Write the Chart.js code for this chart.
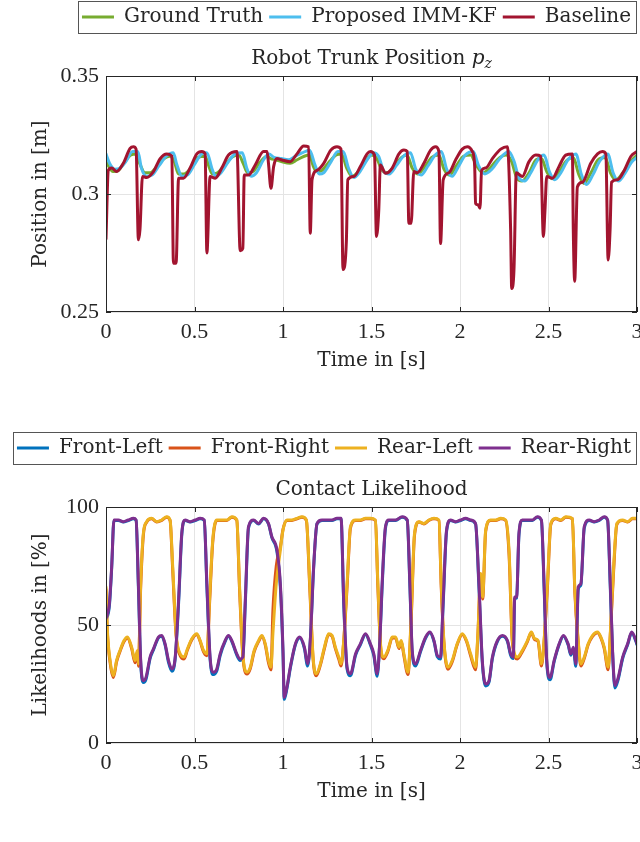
<!DOCTYPE html>
<html><head><meta charset="utf-8">
<script src="https://cdn.jsdelivr.net/npm/chart.js@4.4.1/dist/chart.umd.min.js"></script>
<style>
html,body{margin:0;padding:0;background:#fff;width:640px;height:842px;overflow:hidden}
canvas{position:absolute;left:0}
#c1{top:0} #c2{top:431px}
</style></head><body>
<canvas id="c1" width="640" height="400"></canvas>
<canvas id="c2" width="640" height="400"></canvas>
<script>
// ---------- Top chart: robot trunk position p_z ----------
const baselineT = [
0,0.013,0.032,0.06,0.098,0.136,0.155,0.17,0.183,0.192,
0.206,0.23,0.268,0.306,0.343,0.372,0.381,0.396,0.41,0.438,
0.475,0.513,0.541,0.56,0.57,0.588,0.617,0.654,0.692,0.74,
0.758,0.773,0.781,0.805,0.843,0.89,0.91,0.918,0.932,0.947,
0.966,0.994,1.04,1.079,1.117,1.145,1.154,1.164,1.192,1.23,
1.27,1.305,1.328,1.339,1.358,1.366,1.4,1.437,1.475,1.494,
1.517,1.528,1.541,1.55,1.579,1.617,1.655,1.683,1.702,1.711,
1.724,1.739,1.758,1.796,1.834,1.862,1.881,1.89,1.905,1.937,
1.975,2.013,2.041,2.07,2.083,2.088,2.102,2.113,2.122,2.145,
2.183,2.23,2.268,2.286,2.292,2.305,2.318,2.352,2.39,2.428,
2.456,2.471,2.48,2.49,2.522,2.559,2.597,2.635,2.64,2.648,
2.663,2.692,2.739,2.777,2.805,2.824,2.837,2.848,2.856,2.89,
2.928,2.966,3.0];
const baselineV = [
0.281,0.310,0.311,0.3095,0.313,0.3193,0.320,0.319,0.2806,0.285,
0.3074,0.307,0.3095,0.315,0.317,0.316,0.2707,0.2707,0.3067,0.3067,
0.311,0.317,0.318,0.317,0.275,0.3074,0.3067,0.311,0.3165,0.318,
0.276,0.277,0.308,0.308,0.3123,0.318,0.318,0.313,0.3024,0.3116,
0.315,0.3144,0.3137,0.317,0.3203,0.320,0.2834,0.306,0.310,0.313,
0.3186,0.320,0.319,0.268,0.280,0.306,0.3074,0.3116,0.317,0.318,
0.3165,0.282,0.293,0.3123,0.3088,0.311,0.317,0.3186,0.318,0.2876,
0.2876,0.3095,0.309,0.313,0.3186,0.320,0.318,0.279,0.306,0.309,
0.3144,0.319,0.320,0.318,0.3116,0.296,0.2954,0.294,0.310,0.311,
0.315,0.319,0.320,0.285,0.260,0.268,0.309,0.3074,0.3137,0.3165,
0.316,0.282,0.293,0.3074,0.3067,0.3116,0.3165,0.317,0.285,0.263,
0.303,0.305,0.313,0.317,0.318,0.317,0.272,0.285,0.305,0.306,
0.310,0.316,0.318];

const truthT = [
0,0.04,0.07,0.10,0.14,0.17,0.19,0.22,0.25,0.28,
0.32,0.36,0.385,0.41,0.44,0.48,0.52,0.56,0.58,0.60,
0.63,0.67,0.71,0.75,0.775,0.80,0.83,0.87,0.91,0.93,
0.96,1.0,1.04,1.08,1.12,1.15,1.17,1.19,1.22,1.26,
1.30,1.33,1.36,1.39,1.42,1.47,1.50,1.53,1.56,1.59,
1.63,1.67,1.70,1.73,1.76,1.80,1.84,1.88,1.91,1.94,
1.98,2.02,2.06,2.09,2.13,2.17,2.21,2.26,2.29,2.32,
2.35,2.39,2.43,2.46,2.49,2.52,2.56,2.60,2.64,2.67,
2.70,2.74,2.78,2.82,2.85,2.88,2.92,2.96,3.0];
const truthV = [
0.3137,0.3095,0.310,0.313,0.3165,0.317,0.313,0.309,0.309,0.311,
0.3145,0.316,0.314,0.3085,0.3085,0.311,0.3155,0.316,0.312,0.3085,
0.309,0.312,0.3155,0.3165,0.313,0.309,0.3095,0.3135,0.316,0.315,
0.3145,0.3135,0.313,0.3145,0.316,0.3165,0.312,0.3095,0.310,0.3135,
0.3165,0.317,0.311,0.3075,0.309,0.3145,0.3165,0.315,0.310,0.309,
0.312,0.3155,0.3165,0.311,0.3085,0.3115,0.3155,0.3165,0.3105,0.308,
0.312,0.316,0.3165,0.3125,0.309,0.311,0.3145,0.3165,0.314,0.307,
0.3055,0.309,0.3145,0.315,0.3095,0.3065,0.3095,0.314,0.3155,0.3085,
0.3045,0.309,0.3145,0.3155,0.309,0.306,0.309,0.3135,0.3165];

const immT = [
0,0.02,0.05,0.08,0.11,0.15,0.18,0.20,0.23,0.26,
0.30,0.34,0.38,0.40,0.43,0.46,0.50,0.54,0.57,0.60,
0.62,0.65,0.69,0.73,0.77,0.795,0.82,0.85,0.89,0.92,
0.95,0.99,1.03,1.07,1.11,1.15,1.18,1.205,1.23,1.27,
1.31,1.34,1.37,1.40,1.43,1.48,1.51,1.54,1.57,1.60,
1.64,1.68,1.72,1.75,1.78,1.82,1.86,1.895,1.925,1.955,
1.99,2.03,2.075,2.105,2.14,2.18,2.22,2.275,2.305,2.335,
2.365,2.40,2.44,2.475,2.505,2.535,2.57,2.61,2.655,2.685,
2.715,2.75,2.79,2.835,2.865,2.895,2.93,2.97,3.0];
const immV = [
0.317,0.313,0.3105,0.311,0.3135,0.318,0.318,0.311,0.3075,0.308,
0.312,0.316,0.3175,0.3125,0.3075,0.308,0.3125,0.317,0.3175,0.3105,
0.3075,0.309,0.3135,0.317,0.3175,0.311,0.3075,0.309,0.3145,0.317,
0.3155,0.315,0.3145,0.316,0.3175,0.3185,0.3125,0.3085,0.309,0.3135,
0.318,0.318,0.311,0.307,0.309,0.315,0.3175,0.316,0.3095,0.3085,
0.312,0.316,0.3175,0.3105,0.308,0.312,0.3165,0.318,0.3105,0.3075,
0.3115,0.3165,0.318,0.312,0.3085,0.3105,0.3145,0.318,0.314,0.3065,
0.3055,0.309,0.3145,0.3165,0.3095,0.306,0.309,0.3145,0.317,0.3085,
0.304,0.308,0.314,0.317,0.309,0.3055,0.3085,0.3135,0.3155];

// ---------- Bottom chart: contact likelihood ----------
const legT_A = [
0,0.019,0.032,0.045,0.07,0.098,0.126,0.155,0.17,0.183,
0.196,0.211,0.226,0.249,0.268,0.296,0.315,0.334,0.353,0.372,
0.391,0.41,0.428,0.447,0.475,0.504,0.532,0.555,0.57,0.588,
0.607,0.626,0.645,0.673,0.692,0.711,0.739,0.758,0.773,0.787,
0.805,0.834,0.862,0.89,0.918,0.937,0.966,0.985,1.0,1.007,
1.022,1.041,1.07,1.094,1.121,1.139,1.154,1.173,1.192,1.22,
1.249,1.277,1.305,1.328,1.343,1.362,1.381,1.41,1.437,1.466,
1.494,1.513,1.532,1.547,1.56,1.579,1.598,1.636,1.673,1.702,
1.717,1.73,1.749,1.777,1.806,1.83,1.853,1.872,1.89,1.905,
1.924,1.947,1.975,2.003,2.032,2.06,2.088,2.107,2.126,2.145,
2.164,2.183,2.211,2.24,2.268,2.286,2.301,2.309,2.32,2.333,
2.352,2.381,2.409,2.437,2.46,2.475,2.49,2.509,2.532,2.56,
2.584,2.611,2.626,2.641,2.654,2.668,2.683,2.702,2.73,2.758,
2.787,2.815,2.834,2.849,2.862,2.875,2.894,2.919,2.947,2.97,
2.994,3.0];
const rearRightV = [
52.7,59,74.6,94.5,94.5,93.8,94.5,95.2,94.5,67.5,
35,26.4,27.8,36.4,39.9,44.9,45.6,42,35,31.4,
36.4,60.5,88.8,94.5,93.8,94.5,95.2,94.5,67.5,36.4,
30,31.4,37.8,43.4,45.6,43.4,37.8,35.6,36.4,60.5,
91.7,94.5,93,95.2,93,87.4,81.7,67.5,39.2,19.3,
23.6,32.1,42,44.9,40.6,33.5,43.4,74.6,93,94.5,
94.5,94.5,95.2,95.2,60.5,32.1,29.3,37.8,42,46.3,
42,37.8,29.3,43.4,67.5,91.7,94.5,94.5,95.9,94.5,
67.5,39.2,33.5,39.2,44.9,47,43.4,37.1,36.4,60.5,
90.2,94.5,93.8,94.5,95.2,94.5,93,67.5,35,25,
26.4,36.4,43.4,45.6,43.4,37.8,36.4,61.9,61.9,88.8,
94.5,94.5,94.5,95.9,94.5,67.5,35,27.8,35,42,
45.6,42,37.8,40.6,33.5,66.1,67.5,91.7,94.5,93.8,
94.5,95.9,94.5,67.5,39.2,24.3,27.8,36.4,42,47,
43.4,42];
const frontLeftV = [
52,58,74,94.3,94.3,93.6,94.3,95,94.3,66,
34,25.6,27,35.8,39.4,44.5,45.2,41.5,34.2,30.4,
35.8,59,88,94.3,93.6,94.3,95,94.3,66,35.6,
29,30.6,37,43,45.2,43,37.2,35,35.8,59,
91,94.3,92.8,95,92.8,87,81,66,38,18.5,
23,31.5,41.6,44.5,40,32.6,43,74,92.8,94.3,
94.3,94.3,95,95,59,31.4,28.5,37.2,41.6,46,
41.5,37,28.3,43,66,91,94.3,94.3,95.7,94.3,
66,38.4,32.6,38.7,44.5,46.7,43,36.5,35.6,59,
89.6,94.3,93.6,94.3,95,94.3,92.8,66,34.2,24.2,
25.8,35.8,43,45.2,43,37.2,35.8,61,61.5,88,
94.3,94.3,94.3,95.7,94.3,66,34.2,26.8,34.5,41.6,
45.2,41.5,37.2,40,32.5,65,67,91,94.3,93.6,
94.3,95.7,94.3,66,38.4,23.3,27,35.8,41.6,46.7,
43,41.6];

const legT_B = [
0,0.007,0.023,0.042,0.06,0.079,0.102,0.121,0.145,0.164,
0.177,0.183,0.196,0.211,0.23,0.258,0.287,0.315,0.343,0.362,
0.377,0.396,0.419,0.441,0.46,0.485,0.513,0.532,0.551,0.57,
0.585,0.603,0.626,0.654,0.683,0.711,0.739,0.754,0.773,0.796,
0.815,0.837,0.862,0.881,0.9,0.918,0.932,0.943,0.962,0.985,
1.0,1.022,1.05,1.079,1.107,1.132,1.151,1.17,1.188,1.211,
1.234,1.258,1.277,1.296,1.315,1.328,1.343,1.362,1.381,1.41,
1.437,1.466,1.494,1.522,1.536,1.551,1.569,1.592,1.617,1.636,
1.655,1.668,1.683,1.706,1.724,1.743,1.768,1.796,1.824,1.853,
1.881,1.894,1.909,1.932,1.956,1.984,2.013,2.037,2.06,2.088,
2.101,2.117,2.128,2.145,2.173,2.202,2.23,2.258,2.277,2.296,
2.324,2.352,2.381,2.403,2.422,2.441,2.46,2.475,2.494,2.513,
2.541,2.569,2.598,2.635,2.649,2.668,2.683,2.702,2.724,2.749,
2.777,2.796,2.815,2.837,2.849,2.868,2.886,2.919,2.947,2.975,
3.0];
const rearLeftV = [
66.1,49.1,35,28.5,35,39.2,43.4,44.9,40.6,35,
39.2,33.5,67.5,88.8,93.8,95.2,93.8,94.5,95.9,94.5,
74.6,46.3,37.8,36.4,39.9,44.2,46.3,43.4,39.2,37.8,
60.5,86,94.5,94.5,94.5,95.9,94.5,67.5,37.8,30,
32.1,39.2,43.4,45.6,42,35,32.1,46.3,67.5,81.7,
90.2,94.5,94.5,95.2,95.9,94.5,67.5,36.4,29.3,33.5,
40.6,46.3,45.6,40.6,36.4,33.5,43.4,67.5,91.7,94.5,
94.5,95.2,95.2,94.5,67.5,42,36.4,39.2,44.9,44.9,
40.6,43.4,37.8,30,53.4,88.8,93.8,93,94.5,95.2,
94.5,67.5,43.4,32.1,35,42,46.3,43.4,37.8,32.1,
46.3,71.8,61.9,90.2,94.5,94.5,95.2,94.5,81.7,43.4,
36.4,39.2,43.4,47,44.2,43.4,33.5,43.4,67.5,93,
95.2,94.5,95.9,95.2,64.7,43.4,33.5,36.4,42,45.6,
47,44.9,40.6,32.1,46.3,74.6,93,94.5,93.8,95.2,
95.2];
const frontRightV = [
65,48,34.2,27.8,34.5,38.8,43,44.5,40,34,
38.5,32.5,66,88,93.6,95,93.6,94.3,95.7,94.3,
73,45.5,37,35.6,39.4,43.8,46,43,38.6,37,
59,85,94.3,94.3,94.3,95.7,94.3,66,37,29.2,
31.5,38.6,43,45.2,41.5,34,31,56,75,83,
90.5,94.3,94.3,95,95.7,94.3,66,35.6,28.5,33,
40,46,45.2,40,35.6,32.6,43,66,91,94.3,
94.3,95,95,94.3,66,41.2,35.7,38.7,44.5,44.5,
40,43,37,29,52,88,93.6,92.8,94.3,95,
94.3,66,42.6,31.3,34.4,41.6,46,43,37,31,
45.5,71,61,89.6,94.3,94.3,95,94.3,80,42.6,
35.6,38.7,43,46.7,43.8,43,32.6,43,66,92.5,
95,94.3,95.7,95,63.5,42.6,32.6,35.8,41.6,45.2,
46.7,44.5,40,31,45.5,73,92.5,94.3,93.6,95,
95];

// ---------- helpers ----------
const INK = '#262626';
const TEXT_FONT = {family: "'DejaVu Serif', serif", size: 20, weight: 'normal'};
const TICK_FONT = {family: "'Liberation Serif', 'Times New Roman', serif", size: 22, weight: 'normal'};

function xy(t, v) { return t.map((tt, i) => ({x: tt, y: v[i]})); }
function fmt(v) { return String(Math.round(v * 1000) / 1000); }

const frame = {
  id: 'frame',
  afterDraw(chart, args, opts) {
    const {ctx, chartArea: a, scales: {x, y}} = chart;
    ctx.save();
    ctx.strokeStyle = INK;
    ctx.lineWidth = 1;
    const L = 5;
    ctx.beginPath();
    x.ticks.forEach(t => {
      const p = Math.round(x.getPixelForValue(t.value)) + 0.5;
      ctx.moveTo(p, a.bottom); ctx.lineTo(p, a.bottom - L);
      ctx.moveTo(p, a.top); ctx.lineTo(p, a.top + L);
    });
    y.ticks.forEach(t => {
      const p = Math.round(y.getPixelForValue(t.value)) + 0.5;
      ctx.moveTo(a.left, p); ctx.lineTo(a.left + L, p);
      ctx.moveTo(a.right, p); ctx.lineTo(a.right - L, p);
    });
    ctx.stroke();
    ctx.strokeRect(Math.round(a.left) + 0.5, Math.round(a.top) + 0.5,
                   Math.round(a.width) - 1, Math.round(a.height) - 1);
    // legend frame
    const hb = chart.legend && chart.legend.legendHitBoxes;
    if (hb && hb.length) {
      const l = Math.min(...hb.map(h => h.left)) - 4;
      const r = Math.max(...hb.map(h => h.left + h.width)) + 5;
      const t = hb[0].top - 6, b = hb[0].top + hb[0].height + 6;
      ctx.strokeStyle = '#555';
      ctx.strokeRect(Math.round(l) + 0.5, Math.round(t) + 0.5, Math.round(r - l), Math.round(b - t));
    }
    // rich title (with italic subscript)
    if (opts.rich) {
      const tb = chart.titleBlock;
      const yMid = tb.top + 10 + 12;
      const segs = opts.rich;
      let total = 0;
      segs.forEach(s => { ctx.font = s.font; s.w = ctx.measureText(s.text).width; total += s.w; });
      let cx = (a.left + a.right) / 2 - total / 2;
      ctx.fillStyle = INK;
      ctx.textBaseline = 'middle';
      ctx.textAlign = 'left';
      segs.forEach(s => { ctx.font = s.font; ctx.fillText(s.text, cx, yMid + (s.dy || 0)); cx += s.w; });
    }
    ctx.restore();
  }
};

function legendLabels(chart) {
  const items = Chart.defaults.plugins.legend.labels.generateLabels(chart);
  items.forEach(it => { it.lineWidth = 0; it.fillStyle = it.strokeStyle; });
  return items.sort((p, q) => p.datasetIndex - q.datasetIndex);
}

function build(id, datasets, yMin, yMax, yStep, yLabel, titleText, rich) {
  return new Chart(document.getElementById(id), {
    type: 'line',
    data: {datasets},
    options: {
      responsive: false,
      animation: false,
      layout: {padding: {left: 0, right: 3, top: 1, bottom: 0}},
      elements: {point: {radius: 0}, line: {borderWidth: 3, cubicInterpolationMode: 'monotone', borderJoinStyle: 'round', borderCapStyle: 'round'}},
      scales: {
        x: {
          type: 'linear', min: 0, max: 3,
          ticks: {stepSize: 0.5, padding: 7, color: INK, font: TICK_FONT, maxRotation: 0, autoSkip: false, callback: fmt},
          grid: {color: '#e4e4e4', drawTicks: false},
          border: {display: false},
          title: {display: true, text: 'Time in [s]', font: TEXT_FONT, color: INK, padding: {top: 0, bottom: 27}},
          afterFit(s) { s.height = 88; s.paddingLeft = 0; s.paddingRight = 0; }
        },
        y: {
          min: yMin, max: yMax,
          ticks: {stepSize: yStep, padding: 7, color: INK, font: TICK_FONT, callback: fmt},
          grid: {color: '#e4e4e4', drawTicks: false},
          border: {display: false},
          title: {display: true, text: yLabel, font: TEXT_FONT, color: INK, padding: {top: 29, bottom: 0}},
          afterFit(s) { s.width = 106; s.paddingTop = 0; s.paddingBottom = 0; }
        }
      },
      plugins: {
        legend: {
          position: 'top', align: 'end', weight: 3000,
          labels: {boxWidth: 32, boxHeight: 3, padding: 6, font: TEXT_FONT, color: INK, generateLabels: legendLabels}
        },
        title: {display: true, text: titleText, fullSize: false, font: TEXT_FONT, color: INK, padding: {top: 10, bottom: 5}},
        tooltip: {enabled: false},
        frame: {rich}
      }
    },
    plugins: [frame]
  });
}

// ---------- charts ----------
build('c1', [
  {label: 'Ground Truth', data: xy(truthT, truthV), borderColor: '#77AC30', backgroundColor: '#77AC30', order: 2},
  {label: 'Proposed IMM-KF', data: xy(immT, immV), borderColor: '#4DBEEE', backgroundColor: '#4DBEEE', order: 1},
  {label: 'Baseline', data: xy(baselineT, baselineV), borderColor: '#A2142F', backgroundColor: '#A2142F', order: 0}
], 0.25, 0.35, 0.05, 'Position in [m]', '', [
  {text: 'Robot Trunk Position ', font: "20px 'DejaVu Serif', serif"},
  {text: 'p', font: "italic 20px 'DejaVu Serif', serif"},
  {text: 'z', font: "italic 14px 'DejaVu Serif', serif", dy: 5}
]);

build('c2', [
  {label: 'Front-Left', data: xy(legT_A, frontLeftV), borderColor: '#0072BD', backgroundColor: '#0072BD', order: 3},
  {label: 'Front-Right', data: xy(legT_B, frontRightV), borderColor: '#D95319', backgroundColor: '#D95319', order: 2},
  {label: 'Rear-Left', data: xy(legT_B, rearLeftV), borderColor: '#EDB120', backgroundColor: '#EDB120', order: 1},
  {label: 'Rear-Right', data: xy(legT_A, rearRightV), borderColor: '#7E2F8E', backgroundColor: '#7E2F8E', order: 0}
], 0, 100, 50, 'Likelihoods in [%]', 'Contact Likelihood', null);
</script>
</body></html>
